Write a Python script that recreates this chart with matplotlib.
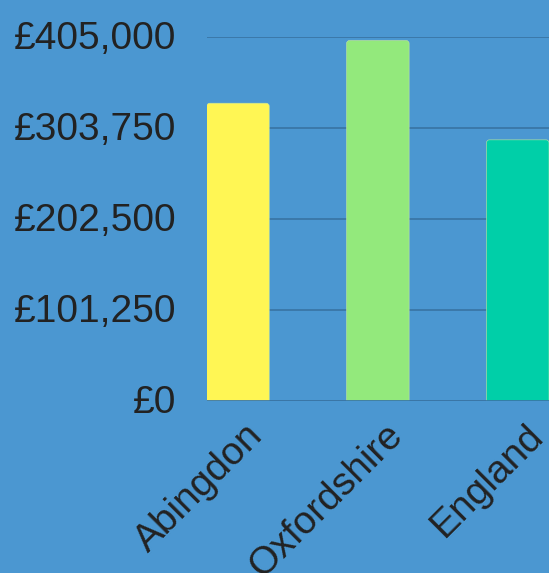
import matplotlib
matplotlib.use("Agg")
import matplotlib.pyplot as plt
from matplotlib.ticker import FuncFormatter
from matplotlib.patches import FancyBboxPatch
from matplotlib.transforms import ScaledTranslation

areas = ["Abingdon", "Oxfordshire", "England"]
prices = [331000, 400700, 290200]
bar_colors = ["#fff654", "#93e97c", "#00cfa8"]
y_ticks = [0, 101250, 202500, 303750, 405000]

bg = "#4b97d1"

plt.rcParams['font.family'] = ['Liberation Sans', 'DejaVu Sans']

fig = plt.figure(figsize=(5.49, 5.73), dpi=100)
fig.patch.set_facecolor(bg)
ax = fig.add_axes([0.3765, 0.3007, 0.6235, 0.6353])
ax.set_facecolor(bg)

bars = ax.bar(range(len(areas)), prices, width=0.447, color=bar_colors)

# swap plain bars for ones with slightly rounded tops
r = 0.0215
for b in bars:
    x, w, h = b.get_x(), b.get_width(), b.get_height()
    rb = FancyBboxPatch((x, -6000), w, h + 6000,
                        boxstyle=f"round,pad=0,rounding_size={r}",
                        mutation_aspect=155000,
                        facecolor=b.get_facecolor(), edgecolor="#c8e6a0",
                        linewidth=0.4, zorder=3)
    b.remove()
    ax.add_patch(rb)

ax.set_xlim(-0.2235, 2.2235)
ax.set_ylim(0, 405000)
ax.set_yticks(y_ticks)
ax.yaxis.set_major_formatter(FuncFormatter(lambda v, p: f"£{v:,.0f}"))
ax.grid(axis='y', color="#3a76a6", linewidth=1.3, zorder=1)
ax.set_axisbelow(True)

for s in ax.spines.values():
    s.set_visible(False)
ax.axhline(0, color="#3a76a6", linewidth=2, zorder=4)

ax.set_xticks(range(len(areas)))
ax.set_xticklabels(areas, rotation=45, ha='right', rotation_mode='anchor')
ax.tick_params(axis='both', length=0, labelsize=28, labelcolor="#222222")
ax.tick_params(axis='y', pad=22)
ax.tick_params(axis='x', pad=14)

shift_x = ScaledTranslation(7 / 100, 3 / 100, fig.dpi_scale_trans)
for lbl in ax.get_xticklabels():
    lbl.set_transform(lbl.get_transform() + shift_x)
shift_y = ScaledTranslation(0, 2 / 100, fig.dpi_scale_trans)
for lbl in ax.get_yticklabels():
    lbl.set_transform(lbl.get_transform() + shift_y)

fig.savefig("out.png", dpi=100, facecolor=bg)
